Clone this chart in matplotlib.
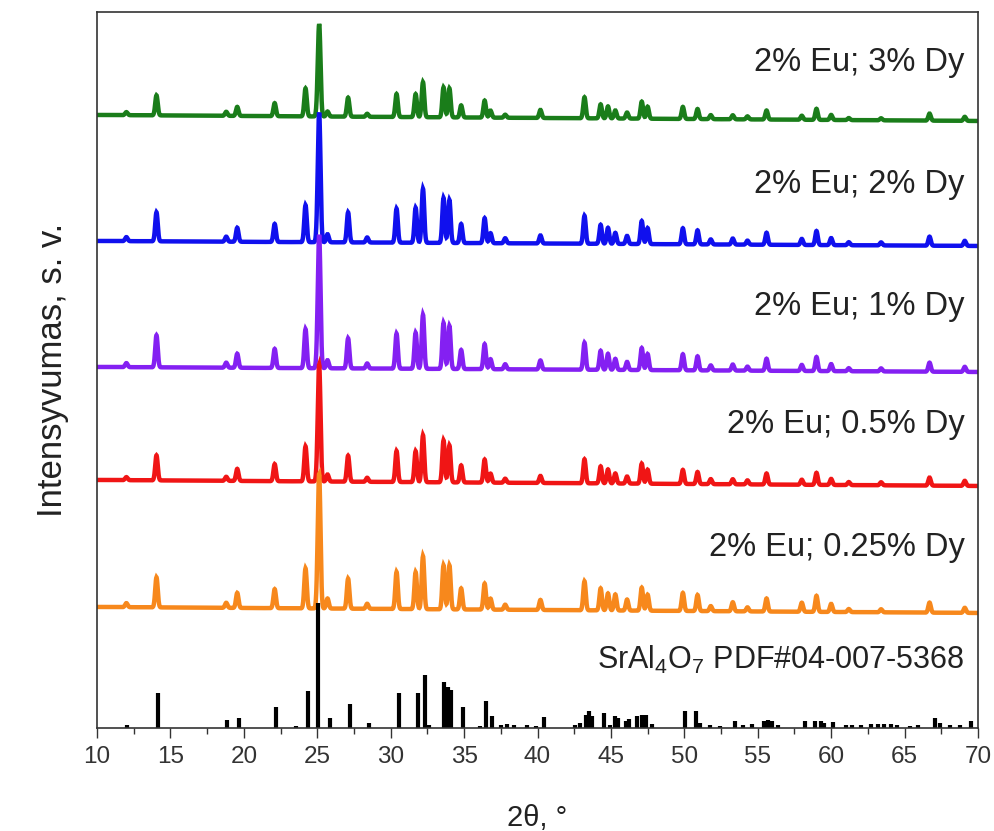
import numpy as np
import matplotlib
matplotlib.use("Agg")
import matplotlib.pyplot as plt
from matplotlib.ticker import MultipleLocator

plt.rcParams['font.family'] = ['Liberation Sans', 'DejaVu Sans']
plt.rcParams['mathtext.fontset'] = 'custom'
plt.rcParams['mathtext.rm'] = 'Liberation Sans'
plt.rcParams['mathtext.default'] = 'regular'

# peak positions (2theta) shared by the measured samples
peak_pos = [12.0, 14.05, 18.8, 19.55, 22.1, 24.2, 25.07, 25.15, 25.7, 27.1, 28.4,
            30.4, 31.7, 32.2, 33.6, 34.0, 34.8, 36.4, 36.8, 37.8, 40.2,
            43.2, 44.3, 44.8, 45.3, 46.1, 47.1, 47.5, 49.9, 50.9, 51.8, 53.3,
            54.3, 55.6, 58.0, 59.0, 60.0, 61.2, 63.4, 66.7, 69.1]

# peak heights (pixel-ish units)
h_3dy = [3, 20, 4, 9, 13, 28, 30, 71, 5, 19, 3,
         23, 23, 35, 30, 29, 12, 17, 7, 3, 8,
         21, 14, 12, 8, 6, 17, 12, 12, 10, 4, 4,
         3, 9, 4, 11, 5, 2, 2, 7, 4]
h_2dy = [4, 29, 5, 14, 18, 37, 44, 98, 8, 30, 5,
         34, 35, 54, 45, 43, 19, 25, 10, 5, 8,
         28, 19, 16, 11, 8, 23, 16, 16, 14, 5, 6,
         4, 12, 6, 14, 7, 3, 3, 9, 5]
h_1dy = [4, 32, 5, 14, 19, 39, 45, 101, 8, 30, 5,
         35, 36, 54, 46, 43, 19, 25, 10, 5, 9,
         27, 19, 16, 11, 8, 22, 16, 16, 14, 5, 6,
         4, 12, 6, 14, 7, 3, 3, 9, 5]
h_05dy = [3, 25, 4, 12, 17, 35, 40, 88, 7, 26, 4,
          31, 31, 47, 42, 37, 17, 23, 9, 4, 7,
          24, 17, 14, 10, 7, 20, 14, 14, 12, 5, 5,
          4, 11, 5, 12, 6, 3, 3, 8, 5]
h_025dy = [4, 30, 5, 15, 19, 40, 49, 99, 10, 30, 5,
           37, 37, 53, 44, 44, 21, 26, 11, 5, 10,
           29, 22, 17, 16, 11, 23, 16, 18, 16, 5, 9,
           4, 13, 9, 16, 8, 3, 3, 10, 5]

# baseline level at 10 and 70 degrees for each sample
base_3dy = [613, 607]
base_2dy = [487, 482]
base_1dy = [361, 356]
base_05dy = [248, 242]
base_025dy = [121, 115]

labels = ["2% Eu; 3% Dy", "2% Eu; 2% Dy", "2% Eu; 1% Dy",
          "2% Eu; 0.5% Dy", "2% Eu; 0.25% Dy"]
label_y = [665, 543, 421, 303, 180]
colors = ["#1a7d1a", "#1010ee", "#8420f2", "#f01515", "#f7881c"]

# SrAl4O7 PDF#04-007-5368 reference lines
stick_pos = [12.05, 14.15, 18.85, 19.65, 22.2, 23.55, 24.4, 25.05, 25.9, 27.25,
             28.5, 30.55, 31.85, 32.35, 32.6, 33.65, 33.9, 34.1, 34.9, 36.1,
             36.5, 36.9, 37.5, 37.9, 38.4, 39.3, 39.9, 40.45, 42.55, 42.9,
             43.3, 43.5, 43.7, 44.55, 44.95, 45.3, 45.5, 46.0, 46.2, 46.8,
             47.1, 47.4, 47.8, 50.05, 50.8, 51.1, 51.75, 52.4, 53.45, 54.0,
             54.6, 55.4, 55.7, 56.0, 56.4, 58.2, 58.9, 59.3, 59.5, 60.1,
             61.0, 61.4, 62.0, 62.7, 63.2, 63.6, 64.1, 64.5, 65.4, 65.9,
             67.1, 67.4, 68.1, 68.8, 69.5]
stick_int = [3, 35, 8, 10, 21, 2, 37, 125, 10, 24,
             5, 35, 35, 53, 3, 46, 41, 38, 21, 2,
             27, 12, 3, 4, 3, 3, 2, 11, 3, 5,
             13, 17, 12, 15, 3, 12, 10, 7, 9, 12,
             13, 13, 4, 17, 17, 5, 3, 2, 7, 3,
             4, 7, 8, 7, 3, 7, 7, 7, 5, 6,
             3, 3, 3, 4, 4, 4, 4, 3, 2, 3,
             10, 5, 3, 3, 7]


def pattern(x, heights, base, width=0.085):
    y = base[0] + (base[1] - base[0]) * (x - 10) / 60
    for p, h in zip(peak_pos, heights):
        y = y + h * np.exp(-0.5 * ((x - p) / width) ** 2)
    return y


fig = plt.figure(figsize=(9.94, 8.31), dpi=100)
ax = fig.add_axes([0.0976, 0.124, 0.8863, 0.8616])

x = np.arange(10, 70.001, 0.01)
series = [(h_3dy, base_3dy), (h_2dy, base_2dy), (h_1dy, base_1dy),
          (h_05dy, base_05dy), (h_025dy, base_025dy)]
for (h, b), c, lab, ly in zip(series, colors, labels, label_y):
    ax.plot(x, pattern(x, h, b), color=c, linewidth=3.2, solid_joinstyle='miter')
    ax.text(0.985, ly, lab, transform=ax.get_yaxis_transform(), ha='right',
            va='center', fontsize=23.5, color='#222222')

ax.vlines(stick_pos, 0, stick_int, color='black', linewidth=3)
ax.text(0.985, 68, "SrAl$_4$O$_7$ PDF#04-007-5368", transform=ax.get_yaxis_transform(),
        ha='right', va='center', fontsize=22, color='#222222')

ax.set_xlim(10, 70)
ax.set_ylim(0, 716)
ax.xaxis.set_major_locator(MultipleLocator(5))
ax.xaxis.set_minor_locator(MultipleLocator(2.5))
ax.tick_params(axis='x', which='major', direction='out', length=7, width=1,
               labelsize=17.5, colors='#333333', pad=6)
ax.tick_params(axis='x', which='minor', direction='out', length=4.5, width=1,
               colors='#333333')
ax.set_yticks([])
for s in ax.spines.values():
    s.set_color('#333333')
    s.set_linewidth(1.2)

ax.set_xlabel("2θ, °", fontsize=21, color='#222222', labelpad=26)
ax.set_ylabel("Intensyvumas, s. v.", fontsize=25, color='#222222', labelpad=20)

fig.savefig("out.png", dpi=100)
